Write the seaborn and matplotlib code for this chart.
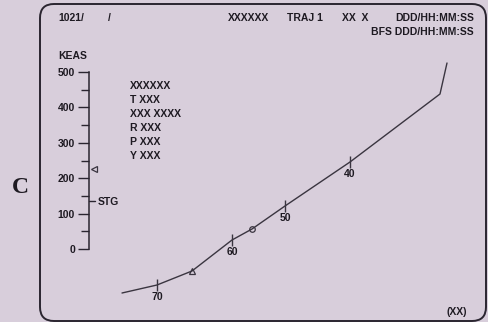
import matplotlib
matplotlib.use("Agg")
import matplotlib.pyplot as plt
import seaborn as sns
import pandas as pd
from matplotlib.patches import FancyBboxPatch

sns.set_theme(style="white")
plt.rcParams["font.family"] = ["Liberation Sans", "DejaVu Sans"]

# Trajectory (display units), and range marks along it
traj_x = [122, 157, 192, 232, 252, 285, 350, 440, 447]
traj_y = [293, 285, 271, 240, 229, 206, 162, 94, 63]
mark_x = [157, 232, 285, 350]
mark_y = [285, 240, 206, 162]
mark_labels = ["70", "60", "50", "40"]
point_x = [192, 252]
point_y = [271, 229]

# KEAS scale
keas_ticks = [0, 100, 200, 300, 400, 500]
keas_minor = [50, 150, 250, 350, 450]
stg_value = 135
bug_value = 225

status_lines = ["XXXXXX", "T XXX", "XXX XXXX", "R XXX", "P XXX", "Y XXX"]

bg = "#d8cedb"
ink = "#1e1a22"

fig = plt.figure(figsize=(4.89, 3.22), dpi=100)
fig.patch.set_facecolor(bg)

ax = fig.add_axes([0, 0, 1, 1])
ax.set_facecolor(bg)
ax.set_xlim(0, 489)
ax.set_ylim(322, 0)
ax.axis("off")

# screen frame
frame = FancyBboxPatch((40, 4), 446, 317, boxstyle="round,pad=0,rounding_size=14",
                       fill=False, edgecolor="#2a2530", linewidth=1.4)
ax.add_patch(frame)

# trajectory line
df = pd.DataFrame({"x": traj_x, "y": traj_y})
sns.lineplot(data=df, x="x", y="y", sort=False, ax=ax, color="#3a3540", linewidth=1.0)
ax.plot(mark_x, mark_y, linestyle="none", marker="|", markersize=8,
        markeredgewidth=1.0, color="#3a3540")
for x, y, lab in zip(mark_x, mark_y, mark_labels):
    ax.text(x, y + 12, lab, fontsize=7.5, fontweight="bold", color=ink,
            ha="center", va="center")
ax.plot(point_x[:1], point_y[:1], linestyle="none", marker="^", markersize=4,
        markerfacecolor="none", markeredgecolor="#3a3540", markeredgewidth=0.9)
ax.plot(point_x[1:], point_y[1:], linestyle="none", marker="o", markersize=4,
        markerfacecolor="none", markeredgecolor="#3a3540", markeredgewidth=0.9)

# header text
kw = dict(fontsize=7.5, fontweight="bold", color=ink, va="center")
ax.text(58, 18, "1021/", ha="left", **kw)
ax.text(108, 18, "/", ha="left", **kw)
ax.text(228, 18, "XXXXXX", ha="left", **kw)
ax.text(287, 18, "TRAJ 1", ha="left", **kw)
ax.text(342, 18, "XX  X", ha="left", **kw)
ax.text(474, 18, "DDD/HH:MM:SS", ha="right", **kw)
ax.text(474, 32, "BFS DDD/HH:MM:SS", ha="right", **kw)
ax.text(58, 56, "KEAS", ha="left", **kw)
for i, s in enumerate(status_lines):
    ax.text(130, 86 + i * 14, s, ha="left", **kw)
ax.text(467, 312, "(XX)", ha="right", **kw)
ax.text(20, 187, "C", ha="center", va="center", fontsize=17, fontweight="bold",
        color=ink, family=["Liberation Serif", "DejaVu Serif"])

# KEAS scale axis
ak = fig.add_axes([89 / 489, (322 - 249) / 322, 0.001, (249 - 72) / 322])
ak.set_ylim(0, 500)
ak.set_xlim(0, 1)
ak.patch.set_alpha(0)
for side in ["top", "right", "bottom"]:
    ak.spines[side].set_visible(False)
ak.spines["left"].set_color("#2a2530")
ak.spines["left"].set_linewidth(1.1)
ak.set_xticks([])
ak.set_yticks(keas_ticks)
ak.set_yticks(keas_minor, minor=True)
ak.set_yticklabels([str(v) for v in keas_ticks], fontsize=7.5, fontweight="bold", color=ink)
ak.tick_params(axis="y", which="major", direction="out", length=8, width=1.0,
               color="#2a2530", pad=2, left=True)
ak.tick_params(axis="y", which="minor", direction="out", length=6, width=1.0,
               color="#2a2530", left=True)
ak.plot([0, 6 / 0.489], [stg_value, stg_value], color="#2a2530", linewidth=1.0,
        clip_on=False)
ak.plot([5 / 0.489], [bug_value], linestyle="none", marker="<", markersize=4,
        markerfacecolor="none", markeredgecolor="#3a3540", markeredgewidth=0.9,
        clip_on=False)
ax.text(98, 202, "STG", ha="left", **kw)

fig.savefig("out.png", dpi=100, facecolor=bg)
